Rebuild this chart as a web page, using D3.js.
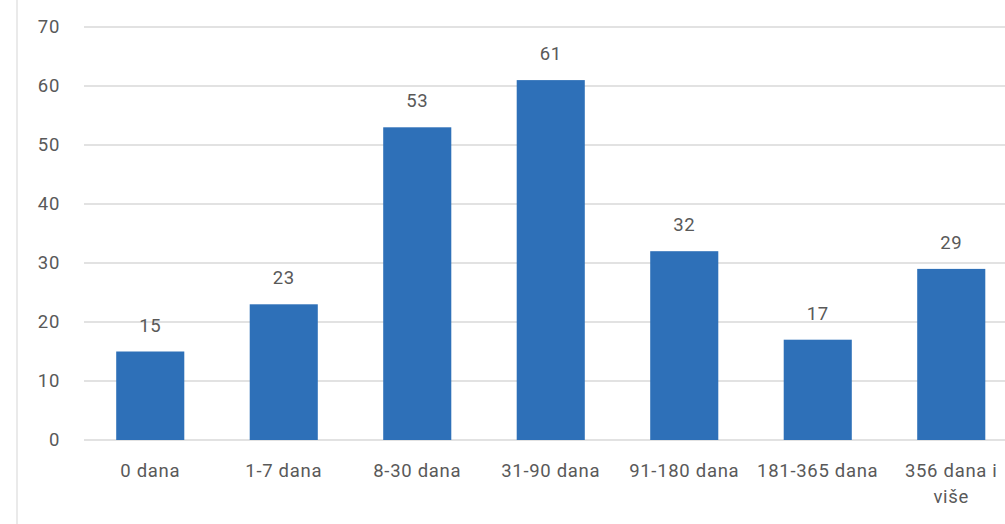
<!DOCTYPE html>
<html>
<head>
<meta charset="utf-8">
<script src="https://cdn.jsdelivr.net/npm/d3@7/dist/d3.min.js"></script>
<style>
  body { margin: 0; background: #fff; }
  text { font-family: Roboto, "Open Sans", sans-serif; fill: #595959; font-size: 18.5px; letter-spacing: 0.7px; }
  .grid line { stroke: #d9d9d9; stroke-width: 1.5; }
</style>
</head>
<body>
<svg width="1005" height="524"></svg>
<script>
// podaci
const categories = ['0 dana', '1-7 dana', '8-30 dana', '31-90 dana', '91-180 dana', '181-365 dana', '356 dana i više'];
const values = [15, 23, 53, 61, 32, 17, 29];
const yTicks = [0, 10, 20, 30, 40, 50, 60, 70];

const svg = d3.select('svg');

// okvir lijevo
svg.append('line')
    .attr('x1', 17).attr('x2', 17)
    .attr('y1', 0).attr('y2', 524)
    .attr('stroke', '#e3e3e3')
    .attr('stroke-width', 1.5);

const x = d3.scaleBand()
    .domain(categories)
    .range([83.5, 1018])
    .paddingInner(0.49)
    .paddingOuter(0.245);

const y = d3.scaleLinear()
    .domain([0, 70])
    .range([440, 27]);

// mreža
svg.append('g').attr('class', 'grid')
    .selectAll('line').data(yTicks).enter()
    .append('line')
    .attr('x1', 84).attr('x2', 1005)
    .attr('y1', d => y(d)).attr('y2', d => y(d));

// oznake y osi
svg.append('g')
    .selectAll('text').data(yTicks).enter()
    .append('text')
    .attr('x', 60)
    .attr('y', d => y(d))
    .attr('dy', '0.35em')
    .attr('text-anchor', 'end')
    .text(d => d);

// stupci
svg.append('g')
    .selectAll('rect').data(values).enter()
    .append('rect')
    .attr('x', (d, i) => x(categories[i]))
    .attr('width', x.bandwidth())
    .attr('y', d => y(d))
    .attr('height', d => y(0) - y(d))
    .attr('fill', '#2e70b8');

// vrijednosti iznad stupaca
svg.append('g')
    .selectAll('text').data(values).enter()
    .append('text')
    .attr('x', (d, i) => x(categories[i]) + x.bandwidth() / 2)
    .attr('y', d => y(d) - 20)
    .attr('text-anchor', 'middle')
    .text(d => d);

// oznake kategorija (prelamanje ako je predugo)
const lab = svg.append('g')
    .selectAll('text').data(categories).enter()
    .append('text')
    .attr('x', d => x(d) + x.bandwidth() / 2)
    .attr('y', 477)
    .attr('text-anchor', 'middle');

lab.each(function(d) {
    const t = d3.select(this);
    const lines = d === '356 dana i više' ? ['356 dana i', 'više'] : [d];
    lines.forEach((l, i) => {
        t.append('tspan')
            .attr('x', x(d) + x.bandwidth() / 2)
            .attr('dy', i === 0 ? 0 : '1.4em')
            .text(l);
    });
});
</script>
</body>
</html>
